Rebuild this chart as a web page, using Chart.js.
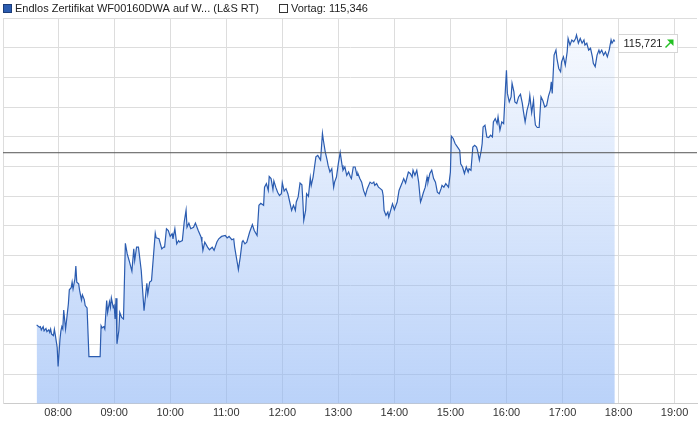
<!DOCTYPE html>
<html><head><meta charset="utf-8">
<script src="https://cdn.jsdelivr.net/npm/chart.js@4.4.1/dist/chart.umd.min.js"></script>
<style>html,body{margin:0;padding:0;background:#fff;overflow:hidden}#wrap{width:698px;height:423px;position:relative}</style>
</head><body><div id="wrap"><canvas id="c"></canvas></div>
<script>
const seriesName = 'Endlos Zertifikat WF00160DWA auf W... (L&S RT)';
const prevName = 'Vortag';
const prevClose = 115.346;
const lastValue = 115.721;
const xRange = ['07:01', '19:24'];
const yRange = [114.5, 115.8];
const yStep = 0.1;
const hourTicks = ['08:00','09:00','10:00','11:00','12:00','13:00','14:00','15:00','16:00','17:00','18:00','19:00'];

const times = [
'07:37','07:40','07:41','07:42','07:44','07:45','07:47','07:48','07:50','07:51','07:52','07:53','07:55','07:56','07:57','07:59',
'08:00','08:02','08:03','08:04','08:05','08:06','08:08','08:09','08:11','08:12','08:14','08:15','08:16','08:18','08:19','08:20',
'08:22','08:23','08:25','08:26','08:28','08:29','08:31','08:33','08:45','08:46','08:47','08:49','08:50','08:52','08:53','08:55',
'08:56','08:57','08:59','09:00','09:01','09:02','09:03','09:05','09:06','09:08','09:10','09:12','09:14','09:16','09:19','09:21',
'09:22','09:24','09:26','09:29','09:32','09:35','09:36','09:38','09:40','09:44','09:45','09:48','09:51','09:53','09:54','09:56',
'09:58','10:00','10:02','10:03','10:05','10:07','10:09','10:10','10:13','10:15','10:17','10:18','10:20','10:22','10:25','10:27',
'10:30','10:33','10:34','10:35','10:37','10:40','10:42','10:45','10:47','10:50','10:52','10:55','10:59','11:01','11:03','11:06',
'11:08','11:09','11:12','11:13','11:15','11:17','11:18','11:20','11:22','11:25','11:28','11:30','11:33','11:35','11:37','11:40',
'11:41','11:43','11:45','11:46','11:48','11:50','11:51','11:53','11:55','11:57','11:59','12:00','12:02','12:04','12:06','12:08',
'12:10','12:12','12:14','12:15','12:17','12:19','12:21','12:22','12:23','12:25','12:26','12:28','12:30','12:31','12:33','12:36',
'12:38','12:40','12:41','12:43','12:44','12:46','12:48','12:49','12:51','12:53','12:55','12:56','12:58','13:00','13:02','13:04',
'13:05','13:07','13:09','13:11','13:13','13:14','13:16','13:18','13:20','13:21','13:23','13:25','13:27','13:29','13:31','13:34',
'13:36','13:38','13:39','13:41','13:43','13:45','13:47','13:48','13:49','13:51','13:53','13:54','13:57','13:58','14:00','14:03',
'14:05','14:08','14:10','14:12','14:15','14:17','14:19','14:20','14:22','14:24','14:26','14:28','14:29','14:31','14:33','14:35',
'14:36','14:38','14:40','14:42','14:44','14:46','14:48','14:50','14:51','14:53','14:55','14:58','15:00','15:01','15:03','15:05',
'15:08','15:10','15:11','15:13','15:15','15:17','15:19','15:20','15:22','15:24','15:26','15:28','15:29','15:31','15:33','15:34',
'15:35','15:37','15:39','15:41','15:43','15:45','15:46','15:48','15:50','15:51','15:53','15:55','15:57','15:59','16:00','16:01',
'16:03','16:05','16:06','16:08','16:09','16:11','16:13','16:15','16:17','16:18','16:20','16:22','16:24','16:25','16:27','16:29',
'16:30','16:31','16:33','16:35','16:37','16:39','16:41','16:43','16:45','16:47','16:48','16:49','16:51','16:53','16:54','16:56',
'16:58','16:59','17:01','17:03','17:05','17:06','17:08','17:10','17:12','17:14','17:15','17:17','17:19','17:21','17:23','17:24',
'17:26','17:28','17:30','17:32','17:33','17:35','17:37','17:39','17:40','17:42','17:44','17:46','17:48','17:50','17:52','17:53',
'17:55','17:56'
];
const values = [
114.766,114.758,114.760,114.749,114.760,114.746,114.754,114.743,114.749,114.741,114.752,114.735,114.730,114.751,114.732,114.690,
114.626,114.718,114.746,114.760,114.752,114.816,114.752,114.780,114.837,114.884,114.891,114.910,114.887,114.921,114.964,114.910,
114.904,114.882,114.850,114.867,114.851,114.831,114.823,114.659,114.659,114.763,114.756,114.760,114.752,114.848,114.808,114.844,
114.825,114.857,114.825,114.831,114.786,114.856,114.702,114.746,114.808,114.791,114.786,115.041,115.005,114.983,114.947,115.022,
114.983,115.028,115.028,114.949,114.814,114.906,114.870,114.910,114.915,115.075,115.059,115.056,115.022,115.028,115.028,115.090,
115.084,115.064,115.073,115.056,115.090,115.039,115.050,115.045,115.050,115.112,115.152,115.095,115.109,115.090,115.095,115.109,
115.084,115.062,115.045,115.017,115.045,115.028,115.019,115.028,115.017,115.045,115.056,115.064,115.067,115.059,115.064,115.053,
115.056,115.028,114.972,114.952,114.994,115.045,115.050,115.039,115.045,115.078,115.104,115.084,115.067,115.169,115.176,115.169,
115.230,115.242,115.219,115.266,115.259,115.222,115.251,115.230,115.213,115.202,115.208,115.245,115.217,115.225,115.208,115.180,
115.152,115.169,115.152,115.180,115.197,115.244,115.238,115.185,115.118,115.152,115.208,115.199,115.262,115.236,115.264,115.332,
115.337,115.326,115.321,115.411,115.388,115.349,115.321,115.304,115.281,115.292,115.230,115.247,115.264,115.309,115.347,115.304,
115.287,115.298,115.270,115.281,115.264,115.259,115.298,115.298,115.270,115.276,115.259,115.247,115.219,115.202,115.225,115.247,
115.242,115.247,115.236,115.242,115.230,115.225,115.219,115.202,115.152,115.135,115.146,115.129,115.163,115.174,115.154,115.180,
115.219,115.242,115.259,115.244,115.281,115.276,115.264,115.287,115.270,115.287,115.247,115.180,115.189,115.211,115.229,115.264,
115.247,115.276,115.287,115.259,115.247,115.213,115.208,115.225,115.236,115.230,115.242,115.230,115.281,115.402,115.394,115.377,
115.363,115.354,115.309,115.298,115.276,115.298,115.281,115.292,115.287,115.365,115.371,115.365,115.354,115.321,115.354,115.377,
115.433,115.439,115.399,115.397,115.405,115.399,115.450,115.461,115.444,115.467,115.422,115.450,115.444,115.568,115.624,115.546,
115.517,115.534,115.580,115.551,115.517,115.512,115.534,115.543,115.512,115.489,115.450,115.489,115.512,115.539,115.481,115.523,
115.469,115.439,115.431,115.431,115.534,115.521,115.500,115.505,115.537,115.557,115.585,115.546,115.675,115.692,115.664,115.630,
115.619,115.652,115.669,115.641,115.686,115.731,115.709,115.726,115.720,115.731,115.743,115.715,115.731,115.715,115.726,115.709,
115.715,115.692,115.698,115.669,115.647,115.636,115.675,115.692,115.681,115.692,115.675,115.686,115.669,115.692,115.726,115.715,
115.726,115.721
];

const FONT = "'Liberation Sans', Arial, Helvetica, sans-serif";
const toHours = s => { const p = s.split(':').map(Number); return p[0] + p[1] / 60; };
const pad2 = n => String(n).padStart(2, '0');
const fmtHour = v => { const h = Math.floor(v + 1e-9); const m = Math.round((v - h) * 60); return pad2(h) + ':' + pad2(m); };
const fmtDe = v => v.toFixed(3).replace('.', ',');

const lineColor = '#2b5cb0';

const legendPlugin = {
  id: 'topLegend',
  afterDraw(chart) {
    const c = chart.ctx;
    c.save();
    c.font = '11px ' + FONT;
    c.textBaseline = 'middle';
    c.fillStyle = lineColor; c.strokeStyle = '#1c3c78'; c.lineWidth = 1;
    c.fillRect(3.5, 4.5, 8, 8); c.strokeRect(3.5, 4.5, 8, 8);
    c.fillStyle = '#222';
    c.fillText(chart.data.datasets[1].label, 15, 9);
    c.fillStyle = '#fff'; c.strokeStyle = '#333';
    c.fillRect(279.5, 4.5, 8, 8); c.strokeRect(279.5, 4.5, 8, 8);
    c.fillStyle = '#222';
    c.fillText(chart.data.datasets[0].label + ': ' + fmtDe(prevClose), 291, 9);
    c.restore();
  }
};

const lastLabelPlugin = {
  id: 'lastLabel',
  afterDatasetsDraw(chart) {
    const xs = chart.scales.x, ys = chart.scales.y;
    const px = xs.getPixelForValue(toHours(times[times.length - 1]));
    const py = ys.getPixelForValue(lastValue);
    const c = chart.ctx;
    c.save();
    const bx = Math.round(px) + 3.5, by = Math.round(py) - 6.5, bw = 59, bh = 18;
    c.fillStyle = '#fff'; c.strokeStyle = '#d6d6d6'; c.lineWidth = 1;
    c.fillRect(bx, by, bw, bh); c.strokeRect(bx, by, bw, bh);
    c.font = '11px ' + FONT; c.textBaseline = 'middle'; c.fillStyle = '#222';
    c.fillText(fmtDe(lastValue), bx + 5, by + bh / 2 + 0.5);
    const ax = bx + 47, ay = by + 13;
    c.strokeStyle = '#22c022'; c.fillStyle = '#22c022'; c.lineWidth = 1.5;
    c.beginPath(); c.moveTo(ax, ay); c.lineTo(ax + 6, ay - 6); c.stroke();
    c.beginPath(); c.moveTo(ax + 8, ay - 8); c.lineTo(ax + 1.5, ay - 8); c.lineTo(ax + 8, ay - 1.5); c.closePath(); c.fill();
    c.restore();
  }
};

const mainData = times.map((t, i) => ({ x: toHours(t), y: values[i] }));
const xMin = toHours(xRange[0]), xMax = toHours(xRange[1]);

new Chart(document.getElementById('c'), {
  type: 'line',
  data: {
    datasets: [
      {
        label: prevName,
        data: [{ x: xMin, y: prevClose }, { x: xMax, y: prevClose }],
        borderColor: '#555555', borderWidth: 1, pointRadius: 0, fill: false, order: 0
      },
      {
        label: seriesName,
        data: mainData,
        borderColor: lineColor, borderWidth: 1.2, pointRadius: 0, tension: 0, order: 1,
        fill: 'start',
        backgroundColor: (ctx) => {
          const ca = ctx.chart.chartArea;
          if (!ca) return 'rgba(140,180,245,0.3)';
          const g = ctx.chart.ctx.createLinearGradient(0, ca.top, 0, ca.bottom);
          g.addColorStop(0, 'rgba(140,180,245,0.06)');
          g.addColorStop(1, 'rgba(140,180,245,0.6)');
          return g;
        }
      }
    ]
  },
  options: {
    responsive: true, maintainAspectRatio: false, animation: false,
    layout: { padding: { left: 3, top: 18, right: 1, bottom: 0 } },
    plugins: { legend: { display: false }, tooltip: { enabled: false } },
    scales: {
      x: {
        type: 'linear', min: xMin, max: xMax,
        afterBuildTicks: (scale) => { scale.ticks = hourTicks.map(t => ({ value: toHours(t) })); },
        ticks: { callback: (v) => fmtHour(v), font: { family: FONT, size: 11 }, color: '#333', padding: 3, maxRotation: 0, autoSkip: false },
        grid: { color: '#dddddd', drawTicks: false },
        border: { color: '#cccccc' }
      },
      y: {
        min: yRange[0], max: yRange[1],
        afterBuildTicks: (scale) => {
          const t = []; const n = Math.round((yRange[1] - yRange[0]) / yStep);
          for (let k = 0; k <= n; k++) t.push({ value: +(yRange[0] + k * yStep).toFixed(3) });
          scale.ticks = t;
        },
        ticks: { display: false },
        grid: { color: '#dddddd', drawTicks: false },
        border: { color: '#dddddd' }
      }
    }
  },
  plugins: [legendPlugin, lastLabelPlugin]
});
</script>
</body></html>
